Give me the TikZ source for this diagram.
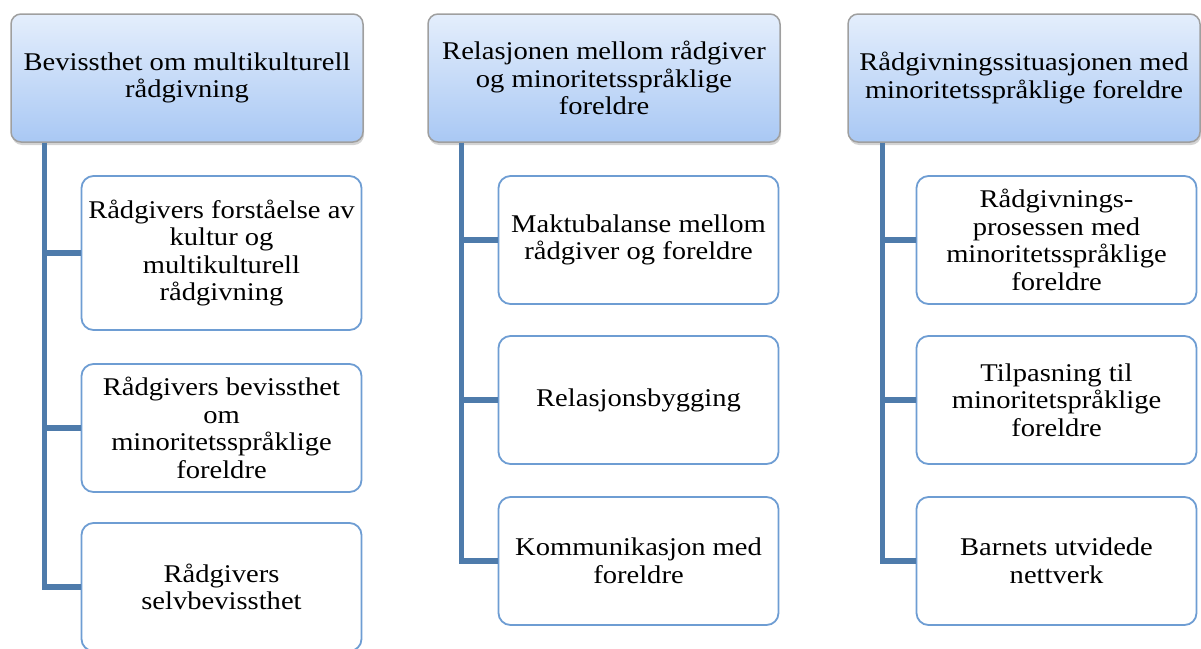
\documentclass[tikz,border=0pt]{standalone}
\usepackage{fontspec}
\setmainfont[FakeStretch=1.12]{Liberation Serif}
\usetikzlibrary{shadows}
\definecolor{headtop}{HTML}{E4EEFC}
\definecolor{headbot}{HTML}{A9C8F4}
\definecolor{boxline}{HTML}{6E9DD3}
\definecolor{trunkblue}{HTML}{4E7BAB}
\begin{document}
\begin{tikzpicture}[%
    x=1pt, y=-1pt,
    font=\fontsize{25.5}{27.5}\selectfont,
    head/.style={draw=gray!75, line width=1.5pt, rounded corners=10pt,
      top color=headtop, bottom color=headbot,
      minimum width=352pt, minimum height=128pt, align=center,
      drop shadow={shadow xshift=1pt, shadow yshift=-3pt, opacity=.35}},
    topic/.style={draw=boxline, line width=1.8pt, rounded corners=12pt, fill=white,
      minimum width=280pt, minimum height=128pt, align=center},
    link/.style={draw=trunkblue, line width=5.5pt}]
    \useasboundingbox (0,0) rectangle (1201,648);
    % headers
    \node [head] (h1) at (187,78) {Bevissthet om multikulturell\\rådgivning};
    \node [head] (h2) at (604,78) {Relasjonen mellom rådgiver\\og minoritetsspråklige\\foreldre};
    \node [head] (h3) at (1024,78) {Rådgivningssituasjonen med\\minoritetsspråklige foreldre};
    % first column
    \node [topic, minimum height=154pt] (a1) at (221.5,253) {Rådgivers forståelse av\\kultur og\\multikulturell\\rådgivning};
    \node [topic] (a2) at (221.5,428) {Rådgivers bevissthet\\om\\minoritetsspråklige\\foreldre};
    \node [topic] (a3) at (221.5,587) {Rådgivers\\selvbevissthet};
    % second column
    \node [topic] (b1) at (638.5,240) {Maktubalanse mellom\\rådgiver og foreldre};
    \node [topic] (b2) at (638.5,400) {Relasjonsbygging};
    \node [topic] (b3) at (638.5,561) {Kommunikasjon med\\foreldre};
    % third column
    \node [topic] (c1) at (1056.5,240) {Rådgivnings-\\prosessen med\\minoritetsspråklige\\foreldre};
    \node [topic] (c2) at (1056.5,400) {Tilpasning til\\minoritetspråklige\\foreldre};
    \node [topic] (c3) at (1056.5,561) {Barnets utvidede\\nettverk};
    % connectors
    \foreach \t in {a1,a2,a3}
      \draw [link] ([xshift=34pt]h1.south west) |- (\t.west);
    \foreach \t in {b1,b2,b3}
      \draw [link] ([xshift=34pt]h2.south west) |- (\t.west);
    \foreach \t in {c1,c2,c3}
      \draw [link] ([xshift=35pt]h3.south west) |- (\t.west);
\end{tikzpicture}
\end{document}
